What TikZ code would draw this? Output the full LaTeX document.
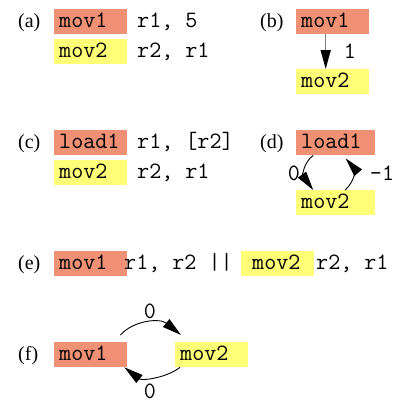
\documentclass[tikz,border=0pt]{standalone}
\usepackage{fontspec}
\newfontfamily\lblfont{Liberation Serif}
\usetikzlibrary{arrows.meta}
\definecolor{salmon}{RGB}{240,144,116}
\definecolor{lemon}{RGB}{255,255,120}
\newcommand\codef{\ttfamily\fontsize{23.4bp}{26bp}\selectfont}
\newcommand\lblf{\lblfont\fontsize{20bp}{24bp}\selectfont}
\tikzset{
  cbox/.style={anchor=north west, minimum height=25bp, inner xsep=5bp, inner ysep=0pt,
    text width=63bp, align=left, font=\codef, text height=14bp, text depth=3bp},
  hot/.style={cbox, fill=salmon},
  cool/.style={cbox, fill=lemon},
  code/.style={anchor=west, inner sep=0pt, font=\codef, text height=14bp, text depth=3bp},
  num/.style={anchor=base, inner sep=0pt, font=\codef},
  lbl/.style={anchor=west, inner sep=0pt, font=\lblf, text height=14bp, text depth=3bp},
  bigtip/.tip={Triangle[length=19bp,width=10bp,black]},
  thinarc/.style={black, line width=0.9bp, -bigtip},
}
\begin{document}
\begin{tikzpicture}[x=1bp,y=-1bp]
\useasboundingbox (0,0) rectangle (395,403);
% (a)
\node[lbl] (la) at (18,21.5) {(a)};
\node[hot] (a1) at (54,9) {mov1};
\node[code] (a1t) at (137,21.5) {r1, 5};
\node[cool] (a2) at (54,39) {mov2};
\node[code] (a2t) at (137,51.5) {r2, r1};
% (b)
\node[lbl] (lb) at (260,21.5) {(b)};
\node[hot] (b1) at (296,9) {mov1};
\node[cool] (b2) at (296,69) {mov2};
\draw[gray, line width=1.5bp, -bigtip]
  ([xshift=-7bp]b1.south) -- ([xshift=-7bp]b2.north);
\node[num] (b12) at (350,58) {1};
% (c)
\node[lbl] (lc) at (18,142.5) {(c)};
\node[hot] (c1) at (54,130) {load1};
\node[code] (c1t) at (137,142.5) {r1, [r2]};
\node[cool] (c2) at (54,160) {mov2};
\node[code] (c2t) at (137,172.5) {r2, r1};
% (d)
\node[lbl] (ld) at (260,142.5) {(d)};
\node[hot, text width=69bp] (d1) at (296,130) {load1};
\node[cool, text width=69bp] (d2) at (296,190) {mov2};
\draw[thinarc] ([xshift=-22.5bp]d1.south) .. controls (303,163) and (303,176) .. ([xshift=-22.5bp]d2.north);
\draw[thinarc] ([xshift=9.5bp]d2.north) .. controls (356,180) and (354,168) .. ([xshift=10bp,yshift=-3bp]d1.south);
\node[num] (d0) at (294,180) {0};
\node[num] (dm) at (382,180) {-1};
% (e)
\node[lbl] (le) at (18,263.5) {(e)};
\node[hot] (e1) at (54,251) {mov1};
\node[code] (e1t) at (124,263.5) {r1, r2 ||};
\node[cool, inner xsep=11bp, text width=51bp] (e2) at (241,251) {mov2};
\node[code] (e2t) at (316,263.5) {r2, r1};
% (f)
\node[lbl] (lf) at (18,354.5) {(f)};
\node[hot] (f1) at (54,342) {mov1};
\node[cool] (f2) at (175,342) {mov2};
\draw[thinarc] ([shift={(-7,-7)}]f1.north east) .. controls (134,320) and (160,318) .. ([shift={(6,-7)}]f2.north west);
\draw[thinarc] ([shift={(5,0)}]f2.south west) .. controls (166,378) and (142,381) .. ([shift={(-3,0)}]f1.south east);
\node[num] (f0a) at (150,318) {0};
\node[num] (f0b) at (150,398.5) {0};
\end{tikzpicture}
\end{document}
